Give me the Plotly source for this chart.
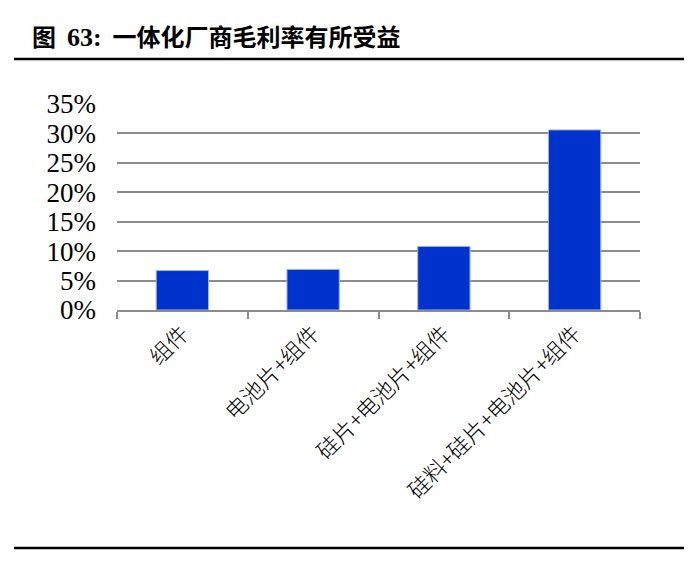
import plotly.graph_objects as go

categories = ["组件", "电池片+组件", "硅片+电池片+组件", "硅料+硅片+电池片+组件"]
margins = [0.067, 0.069, 0.108, 0.306]
title_fig = "图"
title_num = "63:"
title_text = "一体化厂商毛利率有所受益"

OFF = 8  # page body margin
W, H = 699, 568
# target plot area in screenshot pixels: x 117..640, y 104..310
PX0, PX1, PY0, PY1 = 117, 640, 104, 310
L = PX0 - OFF
T = PY0 - OFF
pw, ph = PX1 - PX0, PY1 - PY0
R = W - L - pw
B = H - T - ph

def px_x(x):
    return (x - PX0) / pw

def px_y(y):
    return (PY1 - y) / ph

fig = go.Figure(go.Bar(
    x=categories, y=margins,
    marker=dict(color="#0033CC", line=dict(color="#9fb0ee", width=1)),
    width=0.4,
))

title_html = (
    "<b>" + title_fig + "  "
    + "<span style='font-family:Liberation Serif;font-size:26px'>" + title_num + "</span>"
    + "  " + title_text + "</b>"
)

fig.update_layout(
    width=W, height=H,
    margin=dict(l=L, r=R, t=T, b=B),
    paper_bgcolor="white", plot_bgcolor="white",
    showlegend=False,
    xaxis=dict(
        tickangle=-45,
        tickfont=dict(family="Noto Sans CJK SC", size=22, color="black", weight=300),
        showgrid=False,
        showline=True, linecolor="#8c8c8c", linewidth=2,
        ticks="outside", tickson="boundaries", ticklen=7, tickwidth=2, tickcolor="#8c8c8c",
    ),
    yaxis=dict(
        range=[0, 0.35], dtick=0.05, tickformat=".0%",
        tickfont=dict(family="Liberation Serif", size=27, color="black"),
        showgrid=True, gridcolor="#8c8c8c", gridwidth=2,
        zeroline=False, showline=False, ticks="", ticklabelstandoff=20,
    ),
    annotations=[dict(
        text=title_html, xref="paper", yref="paper",
        x=px_x(30), y=px_y(36), xanchor="left", yanchor="middle",
        showarrow=False, font=dict(family="Noto Sans CJK SC", size=24, color="black"),
    )],
    shapes=[
        dict(type="line", xref="paper", yref="paper", x0=px_x(14), x1=px_x(684),
             y0=px_y(59), y1=px_y(59), line=dict(color="black", width=2.5)),
        dict(type="line", xref="paper", yref="paper", x0=px_x(14), x1=px_x(684),
             y0=px_y(548), y1=px_y(548), line=dict(color="black", width=2.5)),
    ],
)

fig.write_html("out.html")
